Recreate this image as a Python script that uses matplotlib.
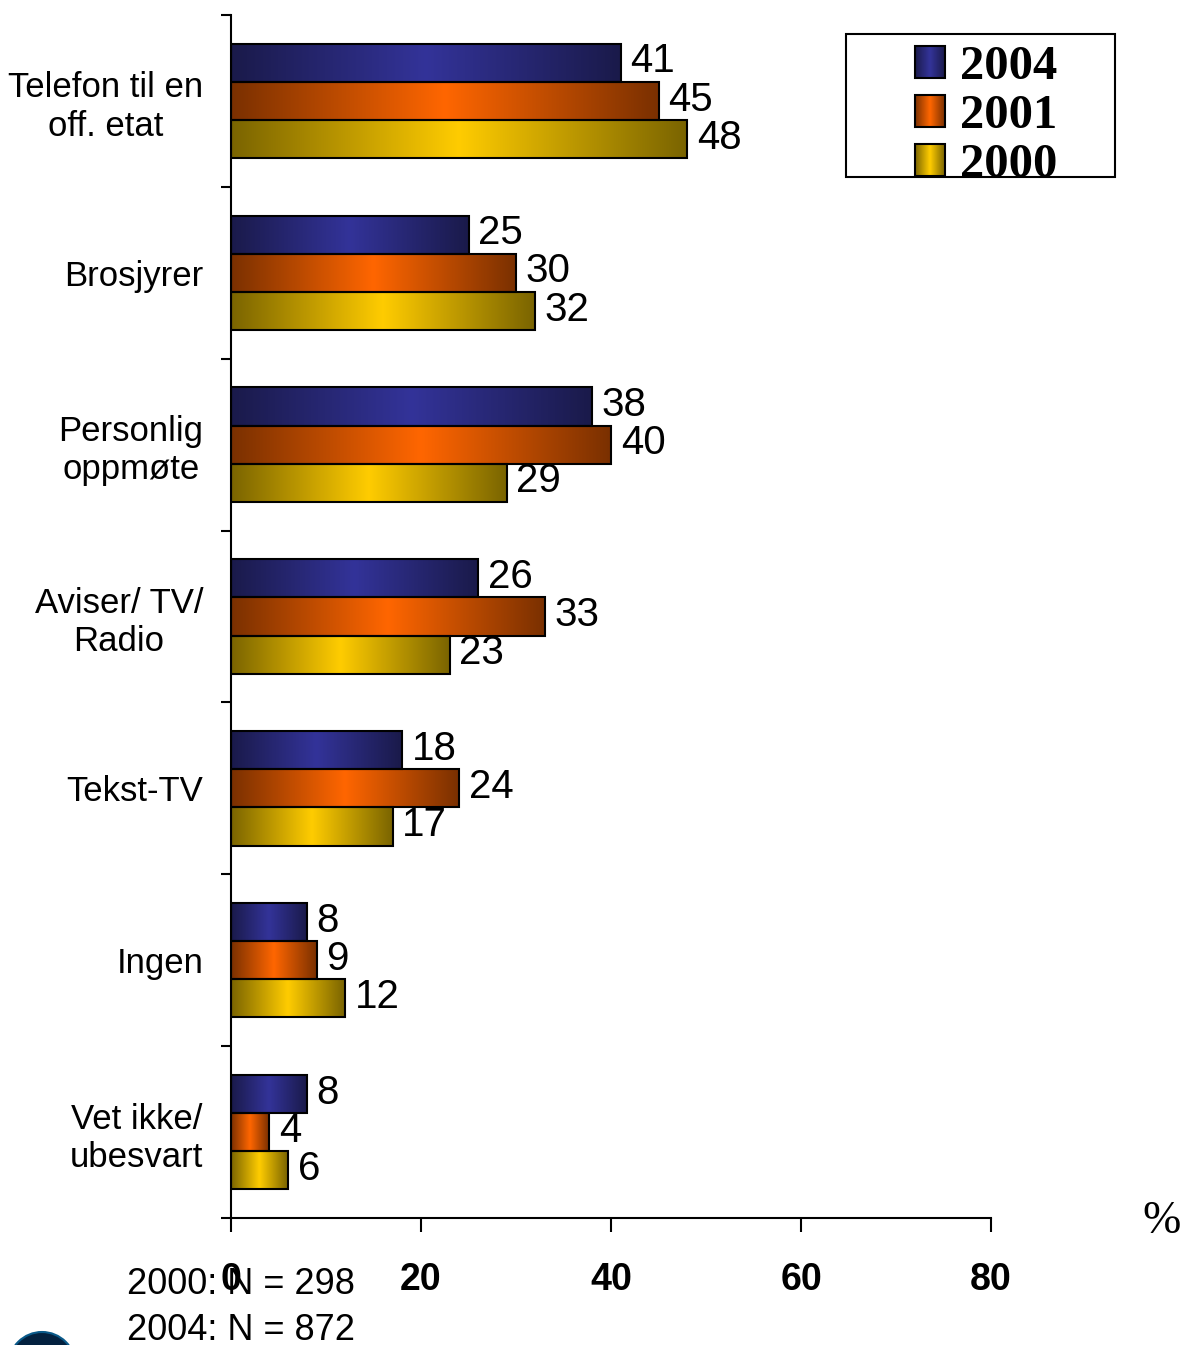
import numpy as np
import matplotlib.pyplot as plt
from matplotlib.colors import LinearSegmentedColormap
from matplotlib.legend_handler import HandlerBase
from matplotlib.patches import Rectangle, Circle

categories = ["Telefon til en\noff. etat", "Brosjyrer", "Personlig\noppmøte",
              "Aviser/ TV/\nRadio", "Tekst-TV", "Ingen", "Vet ikke/\nubesvart"]
years = ["2004", "2001", "2000"]
v2004 = [41, 25, 38, 26, 18, 8, 8]
v2001 = [45, 30, 40, 33, 24, 9, 4]
v2000 = [48, 32, 29, 23, 17, 12, 6]
x_ticks = [0, 20, 40, 60, 80]
notes = ["2000: N = 298", "2004: N = 872"]

# edge -> centre -> edge shading of each series
shades = {
    "2004": ("#1a1a4a", "#333399"),
    "2001": ("#7a3000", "#ff6600"),
    "2000": ("#7a6400", "#ffcc00"),
}
cmaps = {y: LinearSegmentedColormap.from_list(y, [e, c, e]) for y, (e, c) in shades.items()}

plt.rcParams["font.family"] = ["Liberation Sans", "DejaVu Sans"]

fig = plt.figure(figsize=(11.81, 13.45), dpi=100)
ax = fig.add_axes([231 / 1181, 1 - 1218 / 1345, 760 / 1181, 1203 / 1345])

bar_h = 0.222
grad = np.linspace(0, 1, 256).reshape(1, -1)
pos = np.arange(len(categories))
for k, (year, vals) in enumerate(zip(years, [v2004, v2001, v2000])):
    off = (k - 1) * bar_h
    for y, v in zip(pos + off, vals):
        y0, y1 = y - bar_h / 2, y + bar_h / 2
        ax.imshow(grad, extent=[0, v, y1, y0], cmap=cmaps[year], aspect="auto",
                  interpolation="bicubic", zorder=2)
        ax.add_patch(Rectangle((0, y0), v, bar_h, fill=False, edgecolor="black",
                               linewidth=1.5, zorder=3))
        ax.annotate(str(v), (v, y), xytext=(7, 1), textcoords="offset points",
                    va="center", ha="left", fontsize=29)

ax.set_xlim(0, 80)
ax.set_ylim(len(categories) - 0.5, -0.5)

ax.set_xticks(x_ticks)
ax.set_xticklabels([str(t) for t in x_ticks], fontsize=27, fontweight="bold")
ax.tick_params(axis="x", length=10, width=1.5, pad=22)

ax.set_yticks(np.arange(len(categories) + 1) - 0.5)
ax.set_yticklabels([])
ax.tick_params(axis="y", which="major", length=7, width=1.5)
ax.set_yticks(pos, minor=True)
ax.set_yticklabels(categories, minor=True, fontsize=25)
ax.tick_params(axis="y", which="minor", length=0, pad=20)
for lab in ax.get_yticklabels(minor=True):
    lab.set_multialignment("center")

for s in ["top", "right"]:
    ax.spines[s].set_visible(False)
for s in ["left", "bottom"]:
    ax.spines[s].set_linewidth(1.5)


class GradientHandler(HandlerBase):
    def create_artists(self, legend, orig_handle, xdescent, ydescent,
                       width, height, fontsize, trans):
        cm = cmaps[orig_handle.get_label()]
        n = 30
        arts = []
        for i in range(n):
            arts.append(Rectangle((-xdescent + width * i / n, -ydescent), width / n + 0.3,
                                  height, facecolor=cm((i + 0.5) / n), edgecolor="none",
                                  transform=trans))
        arts.append(Rectangle((-xdescent, -ydescent), width, height, fill=False,
                              edgecolor="black", linewidth=1.5, transform=trans))
        return arts


handles = [Rectangle((0, 0), 1, 1, label=y) for y in years]
fig.patches.append(Rectangle((846 / 1181, 1 - 177 / 1345), 269 / 1181, 143 / 1345,
                             transform=fig.transFigure, fill=False, edgecolor="black",
                             linewidth=1.5))
fig.legend(handles=handles, labels=years, handler_map={Rectangle: GradientHandler()},
           loc="center", bbox_to_anchor=(986 / 1181, 1 - 116 / 1345), frameon=False,
           prop={"family": "Liberation Serif", "weight": "bold", "size": 35},
           handlelength=0.62, handleheight=0.62, handletextpad=0.3, labelspacing=0.1,
           borderpad=0)

fig.text(1162 / 1181, 1 - 1222 / 1345, "%", family="Liberation Serif", fontsize=33,
         ha="center", va="center")
for i, note in enumerate(notes):
    fig.text(127 / 1181, 1 - (1285 + 45 * i) / 1345, note, fontsize=26,
             ha="left", va="center")

fig.patches.append(Circle((0.42, -0.205), 0.335, transform=fig.dpi_scale_trans,
                          facecolor="#03213f", edgecolor="#0a5a8a", linewidth=1.5))

fig.savefig("out.png", dpi=100)
